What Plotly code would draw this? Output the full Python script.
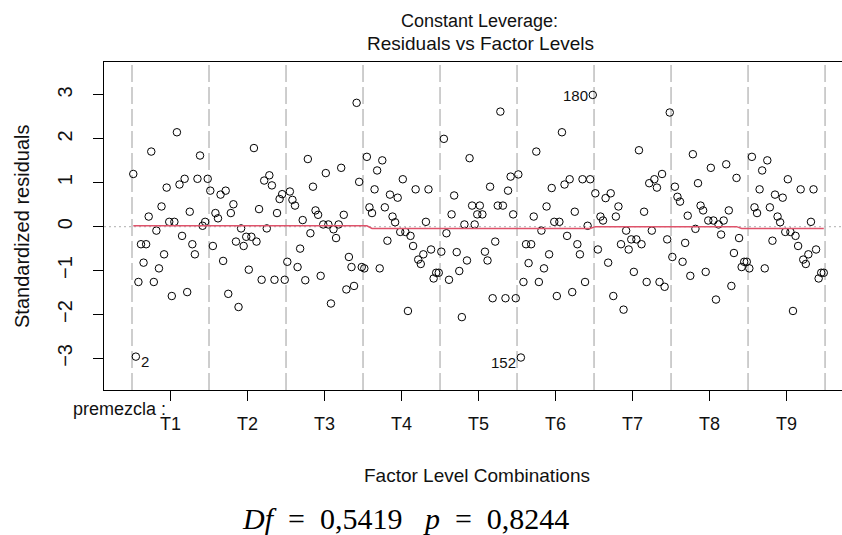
import plotly.graph_objects as go

# Standardized residuals, 30 observations per premezcla level, in observation order
res_T1 = [1.20, -2.96, -1.26, -0.40, -0.82, -0.40, 0.23, 1.71, -1.26, -0.09,
          -0.95, 0.46, -0.63, 0.89, 0.11, -1.58, 0.11, 2.15, 0.96, -0.21,
          1.09, -1.49, 0.34, -0.40, -0.63, 1.09, 1.62, 0.02, 0.11, 1.09]
res_T2 = [0.82, -0.44, 0.31, 0.19, 0.73, -0.78, 0.82, -1.53, 0.31, 0.51,
          -0.34, -1.83, -0.04, -0.44, -0.23, -0.98, -0.23, 1.79, -0.34, 0.40,
          -1.21, 1.05, -0.04, 1.17, 0.94, -1.21, 0.31, 0.63, 0.74, -1.21]
res_T3 = [-0.80, 0.80, 0.61, 0.48, -0.92, -0.50, 0.15, -1.22, 1.54, -0.15,
          0.91, 0.37, 0.27, -1.12, 0.05, 1.22, 0.05, -1.75, -0.06, -0.26,
          0.05, 1.34, 0.27, -1.43, -0.69, -0.92, -1.35, 2.82, 1.02, -0.92]
res_T4 = [-0.95, 1.59, 0.44, 0.31, 0.85, 1.28, -0.95, 1.51, 0.44, -0.32,
          0.73, 0.23, 0.10, 0.66, -0.12, 1.08, -0.12, -1.92, -0.21, -0.44,
          0.85, -0.75, -0.85, -0.63, 0.11, 0.85, -0.52, -1.18, -1.05, -1.05]
res_T5 = [-0.57, 2.00, -0.15, -1.21, 0.28, 0.71, -0.58, -1.01, -2.06, 0.05,
          -0.77, 1.56, 0.48, 0.05, 0.28, 0.48, 0.28, -0.57, -0.77, 0.91,
          -1.63, -0.34, 0.48, 2.62, 0.48, -1.63, 0.82, 1.14, 0.28, -1.63]
res_T6 = [1.19, -2.98, -1.26, -0.40, -0.83, -0.40, 0.23, 1.71, -1.26, -0.09,
          -0.95, 0.46, -0.63, 0.88, 0.11, -1.58, 0.11, 2.15, 0.96, -0.21,
          1.08, -1.49, 0.34, -0.40, -0.63, 1.08, -1.26, 0.02, 1.08, 3.00]
res_T7 = [0.76, -0.52, 0.23, 0.14, 0.65, -0.82, 0.76, -1.58, 0.23, 0.46,
          -0.40, -1.89, -0.09, -0.52, -0.29, -1.03, -0.29, 1.74, -0.40, 0.34,
          -1.26, 0.99, -0.09, 1.08, 0.89, -1.26, 1.20, -1.37, -0.29, 2.60]
res_T8 = [-0.69, 0.91, 0.68, 0.57, -0.80, -0.37, 0.25, -1.12, 1.65, -0.05,
          0.99, 0.48, 0.37, -1.03, 0.14, 1.34, 0.14, -1.66, 0.05, -0.18,
          0.14, 1.42, 0.37, -1.35, -0.60, 1.11, -0.26, -0.92, -0.80, -0.80]
res_T9 = [-0.95, 1.59, 0.44, 0.31, 0.85, 1.28, -0.95, 1.51, 0.44, -0.32,
          0.73, 0.23, 0.10, 0.66, -0.12, 1.08, -0.12, -1.92, -0.21, -0.44,
          0.85, -0.75, -0.85, -0.63, 0.11, 0.85, -0.52, -1.18, -1.05, -1.05]

levels = ["T1", "T2", "T3", "T4", "T5", "T6", "T7", "T8", "T9"]
per_level = 30

# Smoother through the residuals (knots along the factor-combination index)
smooth_x = [0, 91, 93, 127, 148, 150, 178, 180, 235, 237, 269]
smooth_y = [0.02, 0.02, -0.04, -0.05, -0.05, -0.04, -0.04, 0.0, 0.0, -0.04, -0.04]

# Observations flagged with their index
flag_ids = [2, 152, 180]

residuals = res_T1 + res_T2 + res_T3 + res_T4 + res_T5 + res_T6 + res_T7 + res_T8 + res_T9
facval = list(range(len(residuals)))

SANS = "Liberation Sans, Arial, sans-serif"
SERIF = "Liberation Serif, DejaVu Serif, serif"
INK = "#111111"

W, H = 842, 535
L, R, T, B = 104, 0, 62, 145
PW, PH = W - L - R, H - T - B


def px(xp):
    return (xp - L) / PW


def py(yp):
    return (H - B - yp) / PH


fig = go.Figure()

# level separators
for k in range(len(levels) + 1):
    xb = per_level * k - 0.5
    fig.add_shape(type="line", xref="x", yref="paper", x0=xb, x1=xb, y0=0, y1=1,
                  line=dict(color="#BEBEBE", width=1.5, dash="17px,5px"), layer="below")

# horizontal reference at zero
fig.add_shape(type="line", xref="paper", yref="y", x0=0, x1=1, y0=0, y1=0,
              line=dict(color="#BEBEBE", width=1.2, dash="2px,3px"), layer="below")

fig.add_trace(go.Scatter(
    x=facval, y=residuals, mode="markers",
    marker=dict(symbol="circle-open", size=7.5, color="black", line=dict(width=1, color="black")),
    hoverinfo="skip", showlegend=False))

fig.add_trace(go.Scatter(
    x=smooth_x, y=smooth_y, mode="lines",
    line=dict(color="#DF536B", width=1.5),
    hoverinfo="skip", showlegend=False))

# labels of flagged observations: right of point on the left half, left otherwise
mid = (facval[0] + facval[-1]) / 2
for oid in flag_ids:
    xi = oid - 1
    yi = residuals[xi]
    right = xi < mid
    fig.add_annotation(x=xi, y=yi, xref="x", yref="y", text=str(oid), showarrow=False,
                       xanchor="left" if right else "right",
                       xshift=3 if right else -3,
                       yshift=-5 if yi < 0 else -1,
                       font=dict(family=SANS, size=15, color=INK))

tick_pos = [per_level * (i + 0.5) - 0.5 for i in range(len(levels))]

fig.update_layout(
    width=W, height=H,
    margin=dict(l=L, r=R, t=T, b=B, pad=0),
    paper_bgcolor="white", plot_bgcolor="white",
    showlegend=False,
    xaxis=dict(range=[-11.41, 276.1], tickvals=tick_pos, ticktext=levels,
               ticks="outside", ticklen=10, tickwidth=1, tickcolor="black",
               showline=True, mirror=True, linecolor="black", linewidth=1.2,
               showgrid=False, zeroline=False, ticklabelstandoff=7,
               tickfont=dict(family=SANS, size=18, color=INK)),
    yaxis=dict(range=[-3.72, 3.75], tickvals=[-3, -2, -1, 0, 1, 2, 3], tickangle=-90,
               ticks="outside", ticklen=10, tickwidth=1, tickcolor="black",
               showline=True, mirror=False, linecolor="black", linewidth=1.2,
               showgrid=False, zeroline=False, ticklabelstandoff=13,
               tickfont=dict(family=SANS, size=20, color=INK)),
)

# titles and axis captions
fig.add_annotation(xref="paper", yref="paper", x=px(479), y=py(21), text="Constant Leverage:",
                   showarrow=False, xanchor="center", yanchor="middle",
                   font=dict(family=SANS, size=18, color=INK))
fig.add_annotation(xref="paper", yref="paper", x=px(481), y=py(44), text="Residuals vs Factor Levels",
                   showarrow=False, xanchor="center", yanchor="middle",
                   font=dict(family=SANS, size=19, color=INK))
fig.add_annotation(xref="paper", yref="paper", x=px(477), y=py(475), text="Factor Level Combinations",
                   showarrow=False, xanchor="center", yanchor="middle",
                   font=dict(family=SANS, size=19, color=INK))
fig.add_annotation(xref="paper", yref="paper", x=px(22), y=py(227), text="Standardized residuals",
                   showarrow=False, xanchor="center", yanchor="middle", textangle=-90,
                   font=dict(family=SANS, size=20, color=INK))
fig.add_annotation(xref="paper", yref="paper", x=px(71), y=py(409), text="premezcla :",
                   showarrow=False, xanchor="left", yanchor="middle",
                   font=dict(family=SANS, size=18, color=INK))
fig.add_annotation(xref="paper", yref="paper", x=px(405), y=py(518),
                   text="<i>Df</i>  =  0,5419   <i>p</i>  =  0,8244",
                   showarrow=False, xanchor="center", yanchor="middle",
                   font=dict(family=SERIF, size=30, color="black"))

fig.write_html("out.html")
